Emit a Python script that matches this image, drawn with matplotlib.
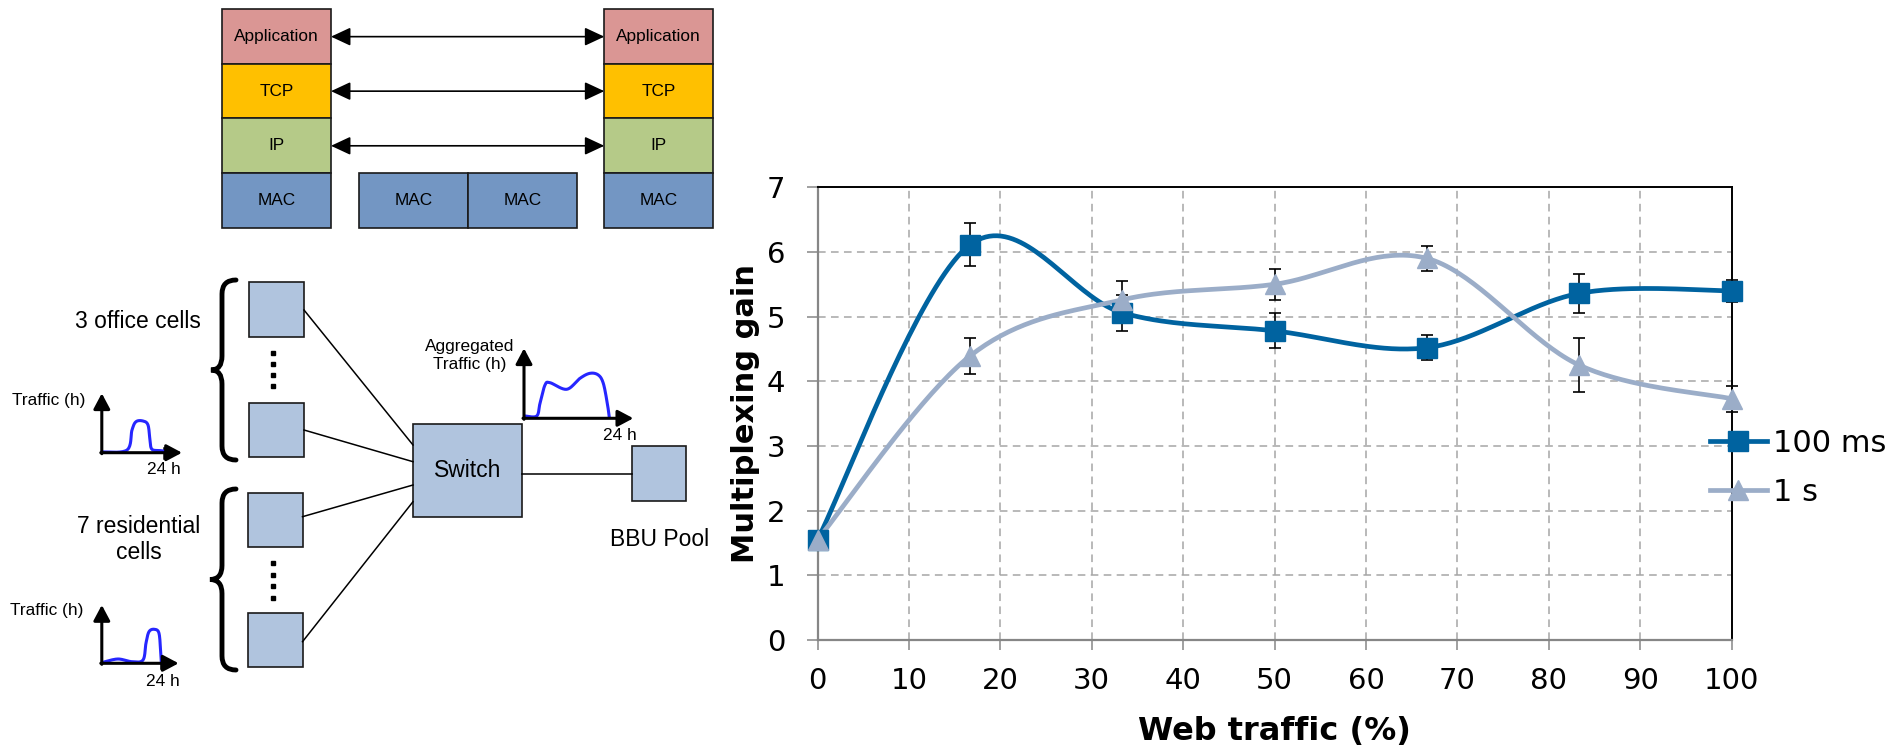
import numpy as np
import matplotlib
matplotlib.use('Agg')
import matplotlib.pyplot as plt
from matplotlib.patches import Rectangle, PathPatch
from matplotlib.path import Path
from matplotlib.lines import Line2D

# chart data
web_traffic = [0, 16.67, 33.33, 50, 66.67, 83.33, 100]
gain_100ms = [1.55, 6.11, 5.06, 4.78, 4.52, 5.36, 5.40]
err_100ms = [0, 0.33, 0.28, 0.27, 0.19, 0.30, 0.17]
gain_1s = [1.55, 4.39, 5.26, 5.50, 5.90, 4.25, 3.73]
err_1s = [0, 0.28, 0.29, 0.24, 0.19, 0.42, 0.20]
series_labels = ['100 ms', '1 s']
x_ticks = list(range(0, 101, 10))
y_ticks = list(range(0, 8))

# diagram labels
stack_layers = ['Application', 'TCP', 'IP', 'MAC']
layer_colors = ['#DA9694', '#FFC000', '#B5CA88', '#7396C3']

C100 = '#0063A0'
C1S = '#9BADC8'
CELL = '#B0C4DE'
BLUE = '#2626FF'
FONT = 'Liberation Sans'


def smooth(xs, ys, n=40):
    # excel-like smoothed line (catmull-rom as cubic bezier)
    pts = np.column_stack([xs, ys]).astype(float)
    P = np.vstack([pts[0], pts, pts[-1]])
    t = np.linspace(0, 1, n)[:, None]
    out = []
    for i in range(1, len(P) - 2):
        p0, p1, p2, p3 = P[i - 1], P[i], P[i + 1], P[i + 2]
        c1 = p1 + (p2 - p0) / 6
        c2 = p2 - (p3 - p1) / 6
        seg = (1 - t) ** 3 * p1 + 3 * (1 - t) ** 2 * t * c1 + 3 * (1 - t) * t ** 2 * c2 + t ** 3 * p2
        out.append(seg if i == 1 else seg[1:])
    out = np.vstack(out)
    return out[:, 0], out[:, 1]


fig = plt.figure(figsize=(18.95, 7.47), dpi=100)

# ---------------- diagram (pixel coordinates) ----------------
d = fig.add_axes([0, 0, 1, 1])
d.set_xlim(0, 1895)
d.set_ylim(747, 0)
d.axis('off')


def box(x0, y0, x1, y1, fc, text=None, fs=12.4):
    d.add_patch(Rectangle((x0, y0), x1 - x0, y1 - y0, fc=fc, ec='#1a1a1a', lw=1.2))
    if text:
        d.text((x0 + x1) / 2, (y0 + y1) / 2, text, ha='center', va='center',
               fontsize=fs, family=FONT)


row_edges = [9.3, 64, 118.3, 173.3, 227.7]
for xl, xr in [(221.7, 331), (604.3, 713.3)]:
    for i, (name, c) in enumerate(zip(stack_layers, layer_colors)):
        box(xl, row_edges[i], xr, row_edges[i + 1], c, name)
box(358.7, 173.3, 467.7, 227.7, layer_colors[3], 'MAC')
box(467.7, 173.3, 577.3, 227.7, layer_colors[3], 'MAC')
for i in range(3):
    y = (row_edges[i] + row_edges[i + 1]) / 2
    d.annotate('', xy=(604.3, y), xytext=(331, y),
               arrowprops=dict(arrowstyle='<|-|>,head_length=0.6,head_width=0.28',
                               mutation_scale=20, color='black', lw=1.2,
                               shrinkA=0, shrinkB=0))

# cells, switch, bbu
cells = [(249, 282.3, 304, 337), (249, 402.7, 304, 457.3),
         (248, 492.7, 302.5, 547.3), (248, 612.7, 302.5, 667.3)]
links = [((304, 310), (413, 445)), ((304, 430), (413, 461.7)),
         ((302.5, 516.7), (413, 485)), ((302.5, 641.7), (413, 501.7))]
for (a, b) in links:
    d.plot([a[0], b[0]], [a[1], b[1]], color='black', lw=1.1)
d.plot([522, 631.7], [474, 474], color='black', lw=1.1)
for c in cells:
    box(*c, CELL)
box(413, 424.3, 522, 517, CELL, 'Switch', fs=16.5)
box(631.7, 446, 686.3, 500.7, CELL)
d.text(660, 539.3, 'BBU Pool', ha='center', va='center', fontsize=16.5, family=FONT)

for ys in [np.linspace(353, 386, 4), np.linspace(563, 598, 4)]:
    d.plot([273] * 4, ys, 's', color='black', ms=3)


def brace(xr, xm, xt, yt, yb, r=14):
    ym = (yt + yb) / 2
    verts = [(xr, yt), (xm, yt), (xm, yt + r), (xm, ym - r), (xm, ym), (xt, ym),
             (xm, ym), (xm, ym + r), (xm, yb - r), (xm, yb), (xr, yb)]
    codes = [Path.MOVETO, Path.CURVE3, Path.CURVE3, Path.LINETO, Path.CURVE3, Path.CURVE3,
             Path.CURVE3, Path.CURVE3, Path.LINETO, Path.CURVE3, Path.CURVE3]
    d.add_patch(PathPatch(Path(verts, codes), fc='none', ec='black', lw=3.5, capstyle='round'))


brace(236, 222, 211, 280, 460)
brace(236, 222, 210, 489, 670)
d.text(138, 321.7, '3 office cells', ha='center', va='center', fontsize=16.5, family=FONT)
d.text(138.6, 539.6, '7 residential\ncells', ha='center', va='center', fontsize=16.5,
       family=FONT, multialignment='center')


def mini(x0, y0, ytop, xend, xtick, px, py):
    ap = dict(arrowstyle='-|>,head_length=0.47,head_width=0.25', mutation_scale=20,
              color='black', lw=2.2, shrinkA=0, shrinkB=0)
    d.annotate('', xy=(x0, ytop), xytext=(x0, y0 + 1), arrowprops=ap)
    d.annotate('', xy=(xend, y0), xytext=(x0 - 1, y0), arrowprops=ap)
    d.plot([xtick, xtick], [y0 - 5, y0 + 5], color='black', lw=1.8)
    sx, sy = smooth(px, py, 20)
    d.plot(sx, sy, color=BLUE, lw=2.2, solid_capstyle='round')


mini(101.8, 452.7, 393.3, 182, 164,
     [102, 127, 132, 136, 143, 148, 150, 152, 161, 175],
     [452, 450, 430, 421.7, 421, 425, 440, 449.3, 450.7, 452.7])
d.text(163.6, 470, '24 h', ha='center', va='center', fontsize=12.4, family=FONT)
d.text(49, 400.7, 'Traffic (h)', ha='center', va='center', fontsize=12.4, family=FONT)

mini(101.8, 663.3, 605, 178.6, 160.7,
     [104, 118, 132, 143, 146, 149, 154.3, 159, 160.7, 161.4],
     [662, 659, 661.7, 660, 643, 631.7, 629.3, 633.3, 653, 663])
d.text(163, 681, '24 h', ha='center', va='center', fontsize=12.4, family=FONT)
d.text(46.4, 611, 'Traffic (h)', ha='center', va='center', fontsize=12.4, family=FONT)

mini(524, 418.3, 348.3, 633.3, 616.7,
     [525, 536.7, 540, 545, 550, 566.7, 580, 590, 598.3, 603.3, 607.3, 609.3],
     [416, 416, 403.3, 385, 382.7, 389.3, 378.3, 373.3, 375, 383.3, 403.3, 417.3])
d.text(620, 435, '24 h', ha='center', va='center', fontsize=12.4, family=FONT)
d.text(469.6, 355.5, 'Aggregated\nTraffic (h)', ha='center', va='center', fontsize=12.4,
       family=FONT, multialignment='center')

# ---------------- chart ----------------
ax = fig.add_axes([0.4314, 0.1432, 0.4824, 0.6061])
ax.set_xlim(0, 100)
ax.set_ylim(0, 7)
ax.set_xticks(x_ticks)
ax.set_yticks(y_ticks)
ax.set_axisbelow(True)
ax.grid(True, color='#A6A6A6', lw=1.1, ls=(0, (5, 3.5)))
for s in ['top', 'right']:
    ax.spines[s].set_color('black')
    ax.spines[s].set_linewidth(1.4)
for s in ['left', 'bottom']:
    ax.spines[s].set_color('#868686')
    ax.spines[s].set_linewidth(1.6)
ax.tick_params(axis='x', length=7.2, width=1.1, color='#868686', labelsize=21, pad=12)
ax.tick_params(axis='y', length=8, width=1.1, color='#868686', labelsize=21, pad=15)

series = [(gain_100ms, err_100ms, C100, 's', 14), (gain_1s, err_1s, C1S, '^', 15)]
handles = []
for vals, errs, col, mk, ms in series:
    ax.errorbar(web_traffic, vals, yerr=errs, fmt='none', ecolor='black', elinewidth=1.2,
                capsize=4, capthick=1.2, zorder=3, clip_on=False)
    sx, sy = smooth(web_traffic, vals)
    ax.plot(sx, sy, color=col, lw=3.4, zorder=4, clip_on=False)
    ax.plot(web_traffic, vals, ls='none', marker=mk, ms=ms, color=col, zorder=5, clip_on=False)
    handles.append(Line2D([], [], color=col, lw=3.4, marker=mk, ms=ms))

ax.set_xlabel('Web traffic (%)', fontsize=23, fontweight='bold')
ax.set_ylabel('Multiplexing gain', fontsize=22, fontweight='bold')
ax.yaxis.set_label_coords(-0.063, 0.5)
ax.xaxis.set_label_coords(0.5, -0.168)

fig.legend(handles, series_labels, loc='center left',
           bbox_to_anchor=(1710 / 1895, (747 - 467.9) / 747), frameon=False, fontsize=22,
           handlelength=1.85, handletextpad=0.22, labelspacing=0.65, borderpad=0,
           borderaxespad=0)

fig.savefig('out.png', dpi=100)
